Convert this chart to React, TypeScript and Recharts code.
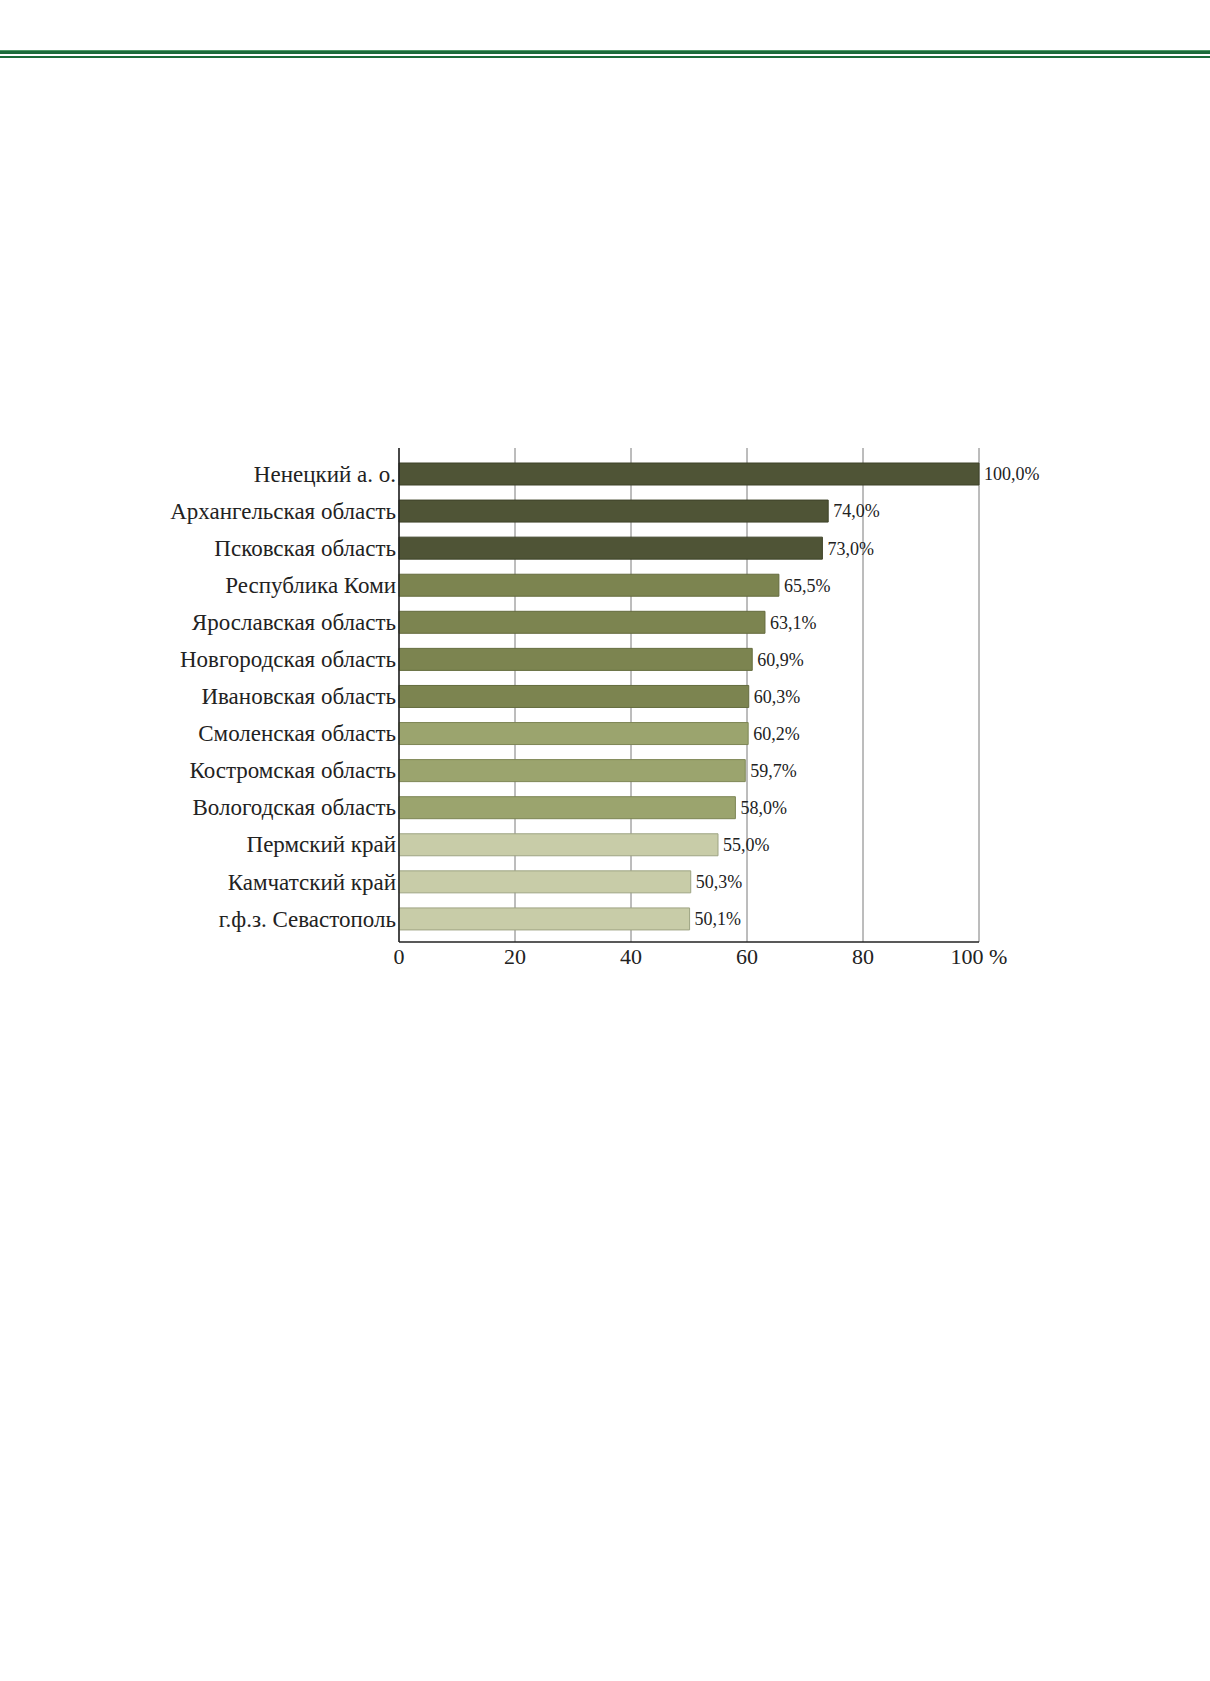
import { BarChart, Bar, Cell, XAxis, YAxis, CartesianGrid, LabelList } from 'recharts'

const regions = [
  'Ненецкий а. о.',
  'Архангельская область',
  'Псковская область',
  'Республика Коми',
  'Ярославская область',
  'Новгородская область',
  'Ивановская область',
  'Смоленская область',
  'Костромская область',
  'Вологодская область',
  'Пермский край',
  'Камчатский край',
  'г.ф.з. Севастополь',
]

const shares = [100.0, 74.0, 73.0, 65.5, 63.1, 60.9, 60.3, 60.2, 59.7, 58.0, 55.0, 50.3, 50.1]

const xTicks = [0, 20, 40, 60, 80, 100]

// bar shade groups, darkest first
const BAR_COLORS = [
  '#4f5436', '#4f5436', '#4f5436',
  '#7c8450', '#7c8450', '#7c8450', '#7c8450',
  '#9ba46e', '#9ba46e', '#9ba46e',
  '#c8cca8', '#c8cca8', '#c8cca8',
]
const BAR_STROKES = [
  '#3f4329', '#3f4329', '#3f4329',
  '#646b3e', '#646b3e', '#646b3e', '#646b3e',
  '#7d8655', '#7d8655', '#7d8655',
  '#9ea483', '#9ea483', '#9ea483',
]

const data = regions.map((region, i) => ({ region, share: shares[i] }))

const FONT = '"Liberation Serif", "Times New Roman", serif'

const fmtShare = (v: number) => v.toFixed(1).replace('.', ',') + '%'

export default function App() {
  return (
    <div
      style={{
        position: 'fixed',
        left: 0,
        top: 0,
        width: 1210,
        height: 1681,
        background: '#fff',
        fontFamily: FONT,
        overflow: 'hidden',
      }}
    >
      <div style={{ position: 'absolute', left: 0, top: 50, width: 1210, height: 4, background: '#1c6b3a' }} />
      <div style={{ position: 'absolute', left: 0, top: 50, width: 1210, height: 1, background: '#4e9a68' }} />
      <div style={{ position: 'absolute', left: 0, top: 56, width: 1210, height: 1.5, background: '#1c6b3a' }} />

      <div style={{ position: 'absolute', left: 0, top: 400 }}>
        <BarChart
          width={1100}
          height={600}
          data={data}
          layout="vertical"
          margin={{ top: 48, right: 121, left: 149, bottom: 18 }}
        >
          <CartesianGrid horizontal={false} stroke="#7a7a7a" strokeWidth={1} />
          <XAxis
            type="number"
            domain={[0, 100]}
            ticks={xTicks}
            height={40}
            tickLine={false}
            tickMargin={0}
            axisLine={{ stroke: '#222', strokeWidth: 1.5 }}
            tick={{ fontSize: 22, fill: '#222', fontFamily: FONT }}
            tickFormatter={(v: number) => (v === 100 ? '100 %' : String(v))}
          />
          <YAxis
            type="category"
            dataKey="region"
            width={250}
            padding={{ top: 7, bottom: 5 }}
            tickSize={0}
            tickMargin={3}
            tickLine={false}
            axisLine={{ stroke: '#222', strokeWidth: 1.5 }}
            tick={{ fontSize: 23, fill: '#222', fontFamily: FONT }}
            interval={0}
          />
          <Bar dataKey="share" barSize={22} isAnimationActive={false}>
            {data.map((_, i) => (
              <Cell key={i} fill={BAR_COLORS[i]} stroke={BAR_STROKES[i]} strokeWidth={1} />
            ))}
            <LabelList
              dataKey="share"
              position="right"
              offset={5}
              formatter={(v: any) => fmtShare(Number(v))}
              style={{ fontSize: 18, fill: '#222', fontFamily: FONT }}
            />
          </Bar>
        </BarChart>
      </div>
    </div>
  )
}
